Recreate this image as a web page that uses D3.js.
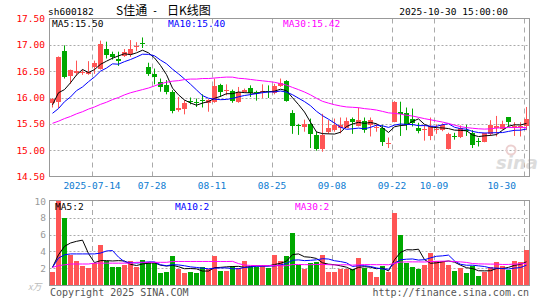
<!DOCTYPE html>
<html><head><meta charset="utf-8">
<script src="https://cdn.jsdelivr.net/npm/d3@7/dist/d3.min.js"></script>
<style>body{margin:0;background:#fff}svg{display:block}</style>
</head><body>
<svg id="c" width="545" height="300"></svg>
<script>
const dates = ["07-03","07-04","07-07","07-08","07-09","07-10","07-11","07-14","07-15","07-16","07-17","07-18",
"07-21","07-22","07-23","07-24","07-25","07-28","07-29","07-30","07-31","08-01","08-04","08-05","08-06","08-07","08-08",
"08-11","08-12","08-13","08-14","08-15","08-18","08-19","08-20","08-21","08-22","08-25","08-26","08-27","08-28","08-29",
"09-01","09-02","09-03","09-04","09-05","09-08","09-09","09-10","09-11","09-12","09-15","09-16","09-17","09-18","09-19",
"09-22","09-23","09-24","09-25","09-26","09-29","09-30","10-09","10-10","10-13","10-14","10-15","10-16","10-17",
"10-20","10-21","10-22","10-23","10-24","10-27","10-28","10-29","10-30"];
const open = [15.89,15.92,16.89,16.41,16.47,16.47,16.45,16.57,16.55,16.92,16.82,16.74,16.79,16.82,16.96,17.04,16.57,16.45,16.30,16.24,
16.11,15.77,15.78,15.94,15.92,15.96,15.90,15.92,16.23,16.14,16.12,15.92,16.11,16.18,16.11,16.11,16.12,16.09,16.22,16.31,
15.70,15.48,15.44,15.49,15.29,15.02,15.35,15.39,15.43,15.43,15.59,15.46,15.56,15.48,15.42,15.43,15.12,15.54,15.73,15.71,
15.60,15.43,15.39,15.26,15.40,15.38,15.03,15.27,15.25,15.39,15.32,15.17,15.16,15.30,15.42,15.41,15.63,15.43,15.44,15.45];
const close = [15.97,16.77,16.38,16.52,16.50,16.49,16.48,16.66,17.02,16.80,16.77,16.70,16.87,16.92,16.98,17.02,16.45,16.39,16.20,16.11,
15.74,15.81,15.90,15.92,15.90,15.94,15.95,16.21,16.11,16.15,15.94,16.11,16.15,16.09,16.08,16.12,16.10,16.21,16.28,15.94,
15.45,15.45,15.50,15.31,15.02,15.29,15.43,15.48,15.48,15.56,15.54,15.58,15.38,15.57,15.44,15.16,15.13,15.92,15.69,15.48,
15.51,15.37,15.40,15.45,15.41,15.48,15.31,15.25,15.43,15.37,15.09,15.15,15.32,15.47,15.45,15.50,15.53,15.46,15.45,15.60];
const high = [15.99,16.78,16.99,16.53,16.70,16.53,16.69,16.70,17.08,17.06,16.87,16.87,16.92,17.09,17.05,17.14,16.66,16.55,16.36,16.33,
16.14,16.01,15.95,16.00,15.98,16.06,15.97,16.36,16.26,16.25,16.15,16.20,16.17,16.23,16.13,16.25,16.23,16.26,16.36,16.33,
15.76,15.50,15.58,15.60,15.35,15.69,15.57,15.60,15.62,15.62,15.62,15.81,15.62,15.62,15.50,15.48,15.24,15.93,15.92,15.81,
15.79,15.52,15.48,15.62,15.49,15.51,15.33,15.33,15.47,15.48,15.38,15.23,15.33,15.57,15.65,15.56,15.63,15.53,15.53,15.82];
const low = [15.81,15.80,16.36,16.26,16.42,16.43,16.43,16.45,16.53,16.74,16.72,16.60,16.77,16.77,16.88,16.94,16.41,16.25,16.11,16.06,
15.70,15.73,15.68,15.87,15.82,15.81,15.73,15.90,16.01,16.04,15.90,15.90,16.09,16.01,15.94,15.99,15.99,16.06,16.20,15.92,
15.31,15.29,15.35,15.04,14.99,14.97,15.31,15.35,15.32,15.42,15.31,15.45,15.33,15.26,15.35,15.08,15.04,15.53,15.27,15.38,
15.45,15.32,15.18,15.19,15.31,15.36,15.01,15.20,15.23,15.27,15.04,15.07,15.15,15.27,15.26,15.39,15.45,15.27,15.26,15.38];
const volume = [1.6,10.0,8.0,3.6,2.8,2.3,2.0,2.6,4.8,2.8,2.1,2.2,2.4,2.8,2.1,3.0,2.7,2.6,1.4,1.6,
3.4,1.9,1.4,1.5,1.4,2.1,1.9,3.4,1.7,1.7,2.3,2.0,2.8,2.2,2.1,2.3,2.0,3.6,2.9,3.4,
6.2,2.4,1.9,2.6,2.7,3.6,1.6,1.6,1.9,1.9,1.9,3.2,2.0,1.6,1.0,2.3,1.5,8.6,6.0,2.6,
2.2,1.9,2.4,3.8,2.9,2.8,2.4,1.7,2.0,1.4,2.3,1.1,1.6,2.1,2.7,2.3,1.8,2.8,2.7,4.2];
// moving-average values before enough history is in view
const ma5Head = [15.86,16.09,16.15,16.28];
const ma10Head = [15.70,15.79,15.92,16.01,16.13,16.20,16.30,16.39,16.50];
const ma30Head = [15.51,15.55,15.60,15.64,15.69,15.73,15.78,15.82,15.87,15.91,15.96,16.00,16.05,16.09,16.12,16.15,16.18,16.22,16.26,16.29,16.31,16.32,16.34,16.35,16.35,16.36,16.36,16.37,16.38];
const volMa5Head = [2.1,3.6,4.6,5.0];
const volMa10Head = [2.1,3.2,3.6,3.7,3.7,3.7,3.7,3.7,3.8];
const volMa30Head = [2.1,2.3,2.4,2.5,2.5,2.5,2.5,2.6,2.6,2.6,2.6,2.6,2.6,2.6,2.7,2.7,2.7,2.7,2.7,2.7,2.8,2.8,2.8,2.8,2.8,2.8,2.8,2.8,2.8];
const priceTicks = [14.5,15.0,15.5,16.0,16.5,17.0,17.5];
const volTicks = [2,4,6,8,10];
const dateTicks = ["07-14","07-28","08-11","08-25","09-08","09-22","10-09","10-30"];
const dateTickLabels = ["2025-07-14","07-28","08-11","08-25","09-08","09-22","10-09","10-30"];

const RED="#ff5555", GREEN="#00a800", GRID="#aaaaaa", FRAME="#999999";
const MONO="'DejaVu Sans Mono','Liberation Mono',monospace";
const svg = d3.select("#c");
const n = dates.length;
const x = d3.scaleBand().domain(d3.range(n)).range([50,530]).padding(0);
const y = d3.scaleLinear().domain([14.5,17.5]).range([176.5,18.5]);
const yv = d3.scaleLinear().domain([0,10]).range([285,201]);
const L=49.5, R=529.5;
const cx = i => Math.round(x(i)) + 2.5;

function ma(arr, k, head){
  return arr.map((_,i)=> i < k-1 ? head[i] : d3.mean(arr.slice(i-k+1,i+1)));
}

// ---------- price panel ----------
const gp = svg.append("g");
gp.selectAll(".hg").data(priceTicks.filter(t=>t>14.5 && t<17.5)).enter().append("line")
  .attr("x1",L).attr("x2",R).attr("y1",d=>Math.round(y(d))+0.5).attr("y2",d=>Math.round(y(d))+0.5)
  .attr("stroke",GRID).attr("stroke-dasharray","2,2");
const tickIdx = dateTicks.map(d=>dates.indexOf(d));
gp.selectAll(".vg").data(tickIdx).enter().append("line")
  .attr("x1",d=>Math.round(x(d))+0.5).attr("x2",d=>Math.round(x(d))+0.5)
  .attr("y1",y(17.5)).attr("y2",y(14.5))
  .attr("stroke",GRID).attr("stroke-dasharray","5,4");
// watermark
gp.append("text").attr("x",496).attr("y",169).attr("font-family","'DejaVu Sans',sans-serif")
  .attr("font-size",18).attr("font-style","italic").attr("font-weight","bold")
  .attr("fill","#dcdcdc").text("sina");
gp.append("circle").attr("cx",511).attr("cy",150).attr("r",4.5).attr("fill","none").attr("stroke","#ecd0d0").attr("stroke-width",2);
// candles
const cg = gp.append("g");
d3.range(n).forEach(i=>{
  const up = close[i] >= open[i];
  const col = up ? RED : GREEN;
  cg.append("line").attr("x1",cx(i)).attr("x2",cx(i))
    .attr("y1",y(high[i])).attr("y2",y(low[i])).attr("stroke",col).attr("stroke-width",1);
  const top = y(Math.max(open[i],close[i])), bot = y(Math.min(open[i],close[i]));
  cg.append("rect").attr("x",Math.round(x(i))).attr("width",5)
    .attr("y",Math.round(top)).attr("height",Math.max(1,Math.round(bot)-Math.round(top)))
    .attr("fill",col).attr("shape-rendering","crispEdges");
});
const line = d3.line().x((d,i)=>cx(i)).y(d=>y(d));
[[ma(close,5,ma5Head),"#000"],[ma(close,10,ma10Head),"#0000ff"],[ma(close,30,ma30Head),"#ff00ff"]].forEach(([d,c])=>{
  gp.append("path").attr("d",line(d)).attr("fill","none").attr("stroke",c).attr("stroke-width",1);
});
gp.append("rect").attr("x",L).attr("y",18.5).attr("width",R-L).attr("height",158)
  .attr("fill","none").attr("stroke",FRAME);
gp.selectAll(".yl").data(priceTicks).enter().append("text")
  .attr("x",45).attr("y",d=>y(d)+3.5).attr("text-anchor","end")
  .attr("font-family",MONO).attr("font-size",9.5).attr("fill","#ff0000")
  .text(d=>d.toFixed(2));
gp.selectAll(".xl").data(tickIdx).enter().append("text")
  .attr("x",(d,k)=>k===tickIdx.length-1 ? 516 : Math.round(x(d)))
  .attr("y",189)
  .attr("text-anchor",(d,k)=>k===tickIdx.length-1 ? "end" : "middle")
  .attr("font-family",MONO).attr("font-size",9.5).attr("fill","#0b7bd1")
  .text((d,k)=>dateTickLabels[k]);
const leg = [["MA5:15.50","#000",52],["MA10:15.40","#0000ff",168],["MA30:15.42","#ff00ff",283]];
leg.forEach(([t,c,xx])=>gp.append("text").attr("x",xx).attr("y",27).attr("font-family",MONO)
  .attr("font-size",9.5).attr("fill",c).text(t));

// ---------- header ----------
svg.append("text").attr("x",48).attr("y",15).attr("font-family",MONO).attr("font-size",9.5).attr("fill","#000").text("sh600182");
const CJK="'Noto Sans CJK SC','DejaVu Sans',sans-serif";
svg.append("text").attr("x",116).attr("y",15).attr("font-family",CJK).attr("font-size",12).attr("fill","#000").text("S佳通");
svg.append("text").attr("x",152).attr("y",14).attr("font-family",MONO).attr("font-size",10).attr("fill","#000").text("-");
svg.append("text").attr("x",167).attr("y",15).attr("font-family",CJK).attr("font-size",12).attr("fill","#000").text("日K线图");
svg.append("text").attr("x",508).attr("y",15).attr("text-anchor","end").attr("font-family",MONO).attr("font-size",9.5).attr("fill","#000").text("2025-10-30 15:00:00");

// ---------- volume panel ----------
const gv = svg.append("g");
gv.selectAll(".hg").data(volTicks.filter(t=>t<10)).enter().append("line")
  .attr("x1",L).attr("x2",R).attr("y1",d=>Math.round(yv(d))+0.5).attr("y2",d=>Math.round(yv(d))+0.5)
  .attr("stroke",GRID).attr("stroke-dasharray","2,2");
gv.selectAll(".vg").data(tickIdx).enter().append("line")
  .attr("x1",d=>Math.round(x(d))+0.5).attr("x2",d=>Math.round(x(d))+0.5)
  .attr("y1",yv(10)).attr("y2",yv(0))
  .attr("stroke",GRID).attr("stroke-dasharray","5,4");
gv.selectAll(".vb").data(volume).enter().append("rect")
  .attr("x",(d,i)=>Math.round(x(i))).attr("width",5)
  .attr("y",d=>Math.round(yv(Math.min(d,10)))).attr("height",d=>Math.round(yv(0))-Math.round(yv(Math.min(d,10))))
  .attr("fill",(d,i)=>close[i]>=open[i]?RED:GREEN).attr("shape-rendering","crispEdges");
const vline = d3.line().x((d,i)=>cx(i)).y(d=>yv(d));
[[ma(volume,5,volMa5Head),"#000"],[ma(volume,10,volMa10Head),"#0000ff"],[ma(volume,30,volMa30Head),"#ff00ff"]].forEach(([d,c])=>{
  gv.append("path").attr("d",vline(d)).attr("fill","none").attr("stroke",c).attr("stroke-width",1);
});
gv.append("rect").attr("x",L).attr("y",200.5).attr("width",R-L).attr("height",85)
  .attr("fill","none").attr("stroke",FRAME);
gv.selectAll(".yl").data(volTicks).enter().append("text")
  .attr("x",46).attr("y",d=>yv(d)+3.5).attr("text-anchor","end")
  .attr("font-family",MONO).attr("font-size",9.5).attr("fill","#999").text(d=>d);
gv.append("text").attr("x",28).attr("y",290).attr("font-family",CJK).attr("font-size",9).attr("font-style","italic").attr("fill","#bbb").text("x万");
const vleg = [["MA5:2","#000",55],["MA10:2","#0000ff",175],["MA30:2","#ff00ff",295]];
vleg.forEach(([t,c,xx])=>gv.append("text").attr("x",xx).attr("y",210).attr("font-family",MONO)
  .attr("font-size",9.5).attr("fill",c).text(t));

svg.append("text").attr("x",50).attr("y",296).attr("font-family",MONO).attr("font-size",10).attr("fill","#555").text("Copyright 2025 SINA.COM");
svg.append("text").attr("x",529).attr("y",296).attr("text-anchor","end").attr("font-family",MONO).attr("font-size",10).attr("fill","#555").text("http://finance.sina.com.cn");
</script>
</body></html>
